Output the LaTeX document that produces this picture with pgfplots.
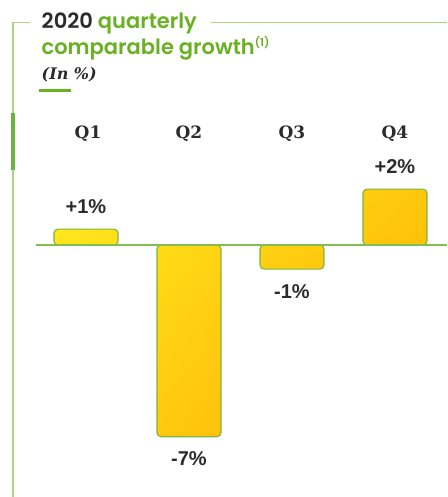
\documentclass[border=0pt]{standalone}
\usepackage{pgfplots}
\pgfplotsset{compat=1.18}
\usepackage{pgfplotstable}
\usepackage{fontspec}
\setmainfont{Liberation Sans}
\newfontfamily\titlefont{Poppins}[UprightFont={* SemiBold}]
\newfontfamily\slabfont{DejaVu Serif}
\usetikzlibrary{shadings}
\definecolor{textdark}{HTML}{2B2B2B}
\definecolor{titlegreen}{HTML}{6AB023}
\definecolor{framelight}{HTML}{A8D582}
\definecolor{framedark}{HTML}{6DB33F}
\definecolor{basegreen}{HTML}{82BE4E}
\definecolor{barline}{HTML}{79B540}
\definecolor{barUL}{HTML}{FFE91E}
\definecolor{barUR}{HTML}{FFC70C}
\definecolor{barLL}{HTML}{FFD414}
\definecolor{barLR}{HTML}{FFAA00}

\pgfplotstableread{
x y label
0 0.58 +1
1 -7.0 -7
2 -0.88 -1
3 2.04 +2
}\growth

\begin{document}
\begin{tikzpicture}
\useasboundingbox (0pt,0pt) rectangle (447pt,-497pt);
% frame
\draw[framelight, line width=1.3pt] (30pt,-22.5pt) -- (13pt,-22.5pt) -- (13pt,-497pt);
\draw[framelight, line width=1.3pt] (211pt,-22.5pt) -- (447pt,-22.5pt);
\draw[framedark, line width=3.5pt] (13pt,-113pt) -- (13pt,-170pt);
% title
\node[anchor=base west, inner sep=0pt] at (41.5pt,-29pt)
  {\titlefont\fontsize{21}{24}\selectfont\color{textdark}2020 \color{titlegreen}quarterly};
\node[anchor=base west, inner sep=0pt] at (41.5pt,-55pt)
  {\titlefont\fontsize{21}{24}\selectfont\color{titlegreen}comparable growth\raisebox{8pt}{\fontsize{11}{11}\selectfont(1)}};
\node[anchor=base west, inner sep=0pt, text=textdark] at (41.5pt,-80pt)
  {\slabfont\bfseries\itshape\fontsize{16}{19}\selectfont (In \%)};
\fill[titlegreen] (39pt,-89pt) rectangle (71pt,-92pt);

\begin{axis}[
  at={(36pt,-497pt)}, anchor=south west,
  scale only axis, width=411pt, height=372pt,
  xmin=-0.485, xmax=3.505, ymin=-9.2, ymax=4.38,
  axis lines=none, xtick=\empty, ytick=\empty,
  clip=false,
]
\addplot[ybar, bar width=64pt, draw=barline, line width=1.1pt, rounded corners=4pt,
  shading=bilinear interpolation,
  upper left=barUL, upper right=barUR, lower left=barLL, lower right=barLR]
  table[x=x, y=y] {\growth};
% labels above positive bars
\addplot[ybar, bar width=64pt, draw=none, fill=none,
  restrict y to domain=0:100,
  point meta=explicit symbolic,
  nodes near coords={\pgfplotspointmeta\%},
  every node near coord/.append style={anchor=south, font=\fontsize{20}{24}\selectfont\bfseries, text=textdark, inner ysep=15pt, inner xsep=0pt}]
  table[x=x, y=y, meta=label] {\growth};
% labels below negative bars
\addplot[ybar, bar width=64pt, draw=none, fill=none,
  restrict y to domain=-100:0,
  point meta=explicit symbolic,
  nodes near coords={\pgfplotspointmeta\%},
  every node near coord/.append style={anchor=north, font=\fontsize{20}{24}\selectfont\bfseries, text=textdark, inner ysep=15pt, inner xsep=0pt}]
  table[x=x, y=y, meta=label] {\growth};
\draw[basegreen, line width=1.2pt] (axis cs:-0.485,0) -- (axis cs:3.505,0);
\node[font=\slabfont\bfseries\fontsize{17}{20}\selectfont, text=textdark] at (axis cs:0.02,4.05) {Q1};
\node[font=\slabfont\bfseries\fontsize{17}{20}\selectfont, text=textdark] at (axis cs:1,4.05) {Q2};
\node[font=\slabfont\bfseries\fontsize{17}{20}\selectfont, text=textdark] at (axis cs:2,4.05) {Q3};
\node[font=\slabfont\bfseries\fontsize{17}{20}\selectfont, text=textdark] at (axis cs:3,4.05) {Q4};
\end{axis}
\end{tikzpicture}
\end{document}
